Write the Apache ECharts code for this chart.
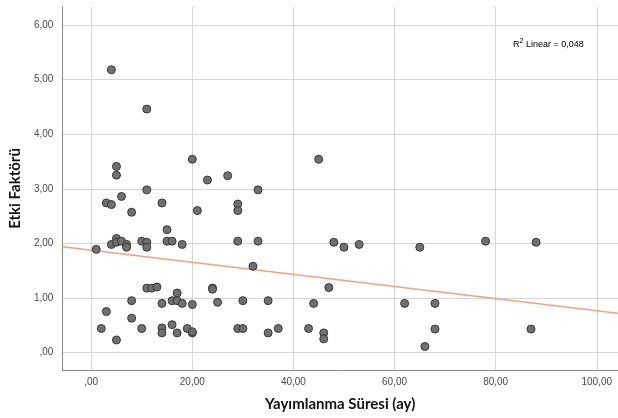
<!DOCTYPE html>
<html>
<head>
<meta charset="utf-8">
<title>Etki Faktörü</title>
<script src="https://cdn.jsdelivr.net/npm/echarts@6/dist/echarts.min.js"></script>
<style>
  html, body { margin: 0; padding: 0; background: #fff; }
</style>
</head>
<body>
<div id="main" style="width:618px;height:418px;"></div>
<script type="text/javascript">
// Yayımlanma Süresi (ay)
var sureX = [4, 11, 5, 5, 6, 11, 20, 23, 27, 33, 45,
  3, 4, 14, 29, 8, 15, 21, 29,
  1, 4, 5, 5, 6, 7, 7, 10, 11, 11, 15, 16, 18, 29, 33, 48, 50, 53, 65, 78, 88,
  32,
  11, 12, 13, 24, 24, 47, 17,
  8, 14, 16, 17, 18, 20, 25, 30, 35, 44, 62, 68,
  3, 8,
  2, 10, 14, 14, 16, 17, 19, 20, 20, 5, 29, 30, 35, 37, 43, 46, 46, 68, 87, 66];
// Etki Faktörü
var etkiY = [5.18, 4.46, 3.41, 3.25, 2.86, 2.98, 3.54, 3.16, 3.24, 2.98, 3.54,
  2.74, 2.71, 2.74, 2.72, 2.57, 2.25, 2.60, 2.60,
  1.89, 1.98, 2.09, 2.02, 2.04, 1.98, 1.93, 2.04, 2.02, 1.93, 2.04, 2.04, 1.98, 2.04, 2.04, 2.02, 1.93, 1.98, 1.93, 2.04, 2.02,
  1.58,
  1.18, 1.18, 1.20, 1.18, 1.16, 1.19, 1.09,
  0.95, 0.90, 0.95, 0.95, 0.90, 0.88, 0.92, 0.95, 0.95, 0.90, 0.90, 0.90,
  0.75, 0.63,
  0.44, 0.44, 0.45, 0.36, 0.51, 0.36, 0.44, 0.36, 0.38, 0.23, 0.44, 0.44, 0.36, 0.44, 0.44, 0.36, 0.25, 0.43, 0.43, 0.11];
// fit line ends
var fitX = [-5.7, 104.2];
var fitY = [1.94, 0.72];

function spssFmt(v) {
  var s = v.toFixed(2).replace('.', ',');
  if (s.charAt(0) === '0') s = s.slice(1);
  return s;
}

var points = sureX.map(function (x, i) { return [x, etkiY[i]]; });
var fitLine = fitX.map(function (x, i) { return [x, fitY[i]]; });

var myChart = echarts.init(document.getElementById('main'));
myChart.setOption({
  animation: false,
  grid: { left: 57, top: 7, right: 0, bottom: 48 },
  xAxis: {
    type: 'value',
    min: -5.7,
    max: 104.2,
    name: 'Yayımlanma Süresi (ay)',
    nameLocation: 'middle',
    nameGap: 27,
    nameTextStyle: { fontFamily: 'Lato', fontWeight: 'bold', fontSize: 15, color: '#111' },
    axisLine: { onZero: false, lineStyle: { color: '#8a8a8a' } },
    axisTick: { show: false },
    axisLabel: {
      formatter: spssFmt, fontFamily: 'Liberation Sans', fontSize: 10, color: '#4a4a4a',
      margin: 7, showMinLabel: false, showMaxLabel: false
    },
    splitLine: { show: true, showMinLine: false, showMaxLine: false, lineStyle: { color: '#d6d6d6' } }
  },
  yAxis: {
    type: 'value',
    min: -0.32,
    max: 6.33,
    name: 'Etki Faktörü',
    nameLocation: 'middle',
    nameGap: 38,
    nameRotate: 90,
    nameTextStyle: { fontFamily: 'Lato', fontWeight: 'bold', fontSize: 15, color: '#111' },
    axisLine: { show: true, onZero: false, lineStyle: { color: '#8a8a8a' } },
    axisTick: { show: false },
    axisLabel: {
      formatter: spssFmt, fontFamily: 'Liberation Sans', fontSize: 10, color: '#4a4a4a',
      margin: 9, showMinLabel: false, showMaxLabel: false
    },
    splitLine: { show: true, showMinLine: false, showMaxLine: false, lineStyle: { color: '#d6d6d6' } }
  },
  graphic: [{
    type: 'text',
    left: 513,
    top: 38,
    style: {
      text: '{a|R}{s|2}{a| Linear = 0,048}',
      rich: {
        a: { fontFamily: 'Liberation Sans', fontSize: 9, color: '#333', height: 12, verticalAlign: 'bottom' },
        s: { fontFamily: 'Liberation Sans', fontSize: 7, color: '#333', height: 12, verticalAlign: 'top', padding: [0, 0, 3, 0] }
      }
    }
  }],
  series: [
    {
      type: 'line',
      data: fitLine,
      symbol: 'none',
      lineStyle: { color: '#f7a07b', width: 1.5 },
      z: 2
    },
    {
      type: 'scatter',
      data: points,
      symbolSize: 8,
      itemStyle: { color: '#707070', borderColor: '#383838', borderWidth: 1, opacity: 1 },
      z: 3
    }
  ]
});
</script>
</body>
</html>
